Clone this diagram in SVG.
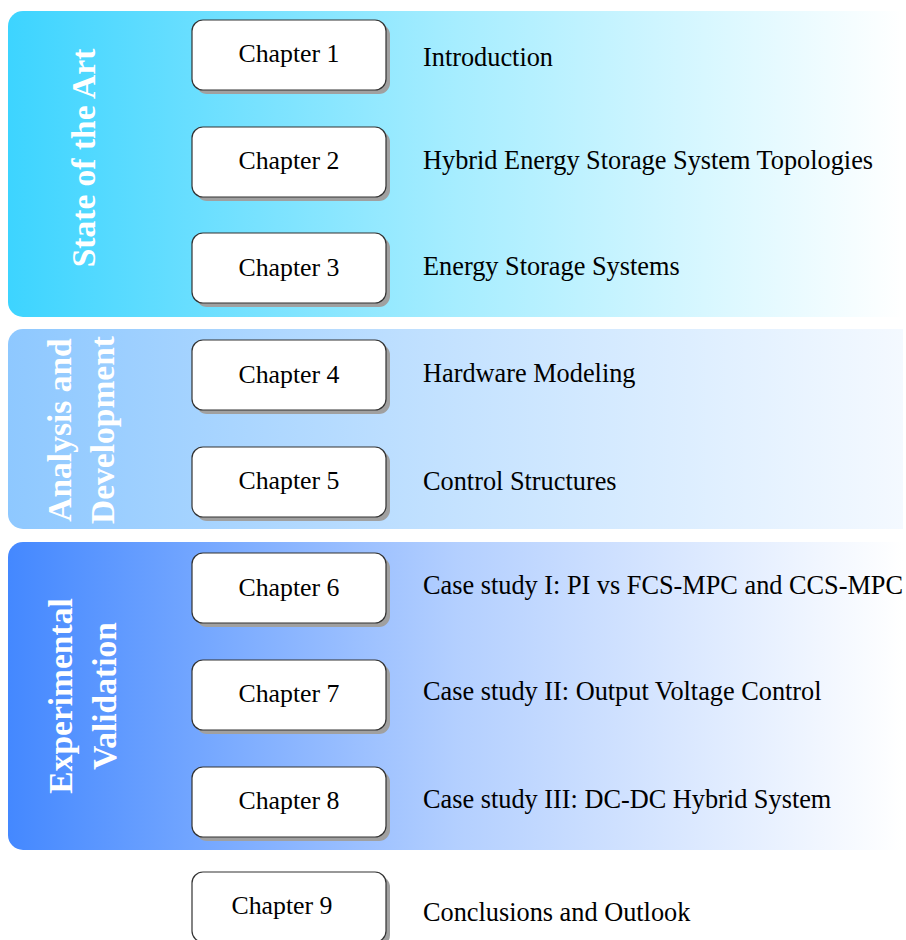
<svg xmlns="http://www.w3.org/2000/svg" width="906" height="940" viewBox="0 0 906 940">
<defs>
<linearGradient id="g1" x1="0" y1="0" x2="1" y2="0">
<stop offset="0" stop-color="#3dd4ff"/>
<stop offset="0.5" stop-color="#a6edff"/>
<stop offset="1" stop-color="#ffffff"/>
</linearGradient>
<linearGradient id="g2" x1="0" y1="0" x2="1" y2="0">
<stop offset="0" stop-color="#8ec8ff"/>
<stop offset="0.5" stop-color="#c4e2ff"/>
<stop offset="1" stop-color="#f4f9ff"/>
</linearGradient>
<linearGradient id="g3" x1="0" y1="0" x2="1" y2="0">
<stop offset="0" stop-color="#4488ff"/>
<stop offset="0.5" stop-color="#b3cfff"/>
<stop offset="1" stop-color="#ffffff"/>
</linearGradient>
</defs>
<style>
.box{fill:#ffffff;stroke:#333333;stroke-width:1.2}
.sh{fill:#a0a0a0}
.ch{font-family:"Liberation Serif","Times New Roman",serif;font-size:25.8px;fill:#000;text-anchor:middle}
.lb{font-family:"Liberation Serif","Times New Roman",serif;font-size:26.3px;fill:#000}
.vt{font-family:"Liberation Serif","Times New Roman",serif;font-size:33.5px;font-weight:bold;fill:#ffffff;text-anchor:middle}
</style>
<g id="band1">
<path d="M23,11 H903 V317 H23 A15,15 0 0 1 8,302 V26 A15,15 0 0 1 23,11 Z" fill="url(#g1)"/>
<text class="vt" transform="translate(95,158) rotate(-90)">State of the Art</text>
</g>
<g id="band2">
<path d="M23,329 H903 V529 H23 A15,15 0 0 1 8,514 V344 A15,15 0 0 1 23,329 Z" fill="url(#g2)"/>
<text class="vt" transform="translate(71,430) rotate(-90)">Analysis and</text>
<text class="vt" transform="translate(114,430) rotate(-90)">Development</text>
</g>
<g id="band3">
<path d="M23,542 H903 V850 H23 A15,15 0 0 1 8,835 V557 A15,15 0 0 1 23,542 Z" fill="url(#g3)"/>
<text class="vt" transform="translate(72,696) rotate(-90)">Experimental</text>
<text class="vt" transform="translate(116,696) rotate(-90)">Validation</text>
</g>
<g id="ch1"><rect class="sh" x="196" y="24" width="194" height="70" rx="11"/><rect class="box" x="192" y="20" width="194" height="70" rx="11"/><text class="ch" x="289" y="62">Chapter 1</text><text class="lb" x="423" y="66">Introduction</text></g>
<g id="ch2"><rect class="sh" x="196" y="131" width="194" height="70" rx="11"/><rect class="box" x="192" y="127" width="194" height="70" rx="11"/><text class="ch" x="289" y="169">Chapter 2</text><text class="lb" x="423" y="169">Hybrid Energy Storage System Topologies</text></g>
<g id="ch3"><rect class="sh" x="196" y="237" width="194" height="70" rx="11"/><rect class="box" x="192" y="233" width="194" height="70" rx="11"/><text class="ch" x="289" y="276">Chapter 3</text><text class="lb" x="423" y="275">Energy Storage Systems</text></g>
<g id="ch4"><rect class="sh" x="196" y="344" width="194" height="70" rx="11"/><rect class="box" x="192" y="340" width="194" height="70" rx="11"/><text class="ch" x="289" y="383">Chapter 4</text><text class="lb" x="423" y="382">Hardware Modeling</text></g>
<g id="ch5"><rect class="sh" x="196" y="451" width="194" height="70" rx="11"/><rect class="box" x="192" y="447" width="194" height="70" rx="11"/><text class="ch" x="289" y="489">Chapter 5</text><text class="lb" x="423" y="490">Control Structures</text></g>
<g id="ch6"><rect class="sh" x="196" y="557" width="194" height="70" rx="11"/><rect class="box" x="192" y="553" width="194" height="70" rx="11"/><text class="ch" x="289" y="596">Chapter 6</text><text class="lb" x="423" y="594">Case study I: PI vs FCS-MPC and CCS-MPC</text></g>
<g id="ch7"><rect class="sh" x="196" y="664" width="194" height="70" rx="11"/><rect class="box" x="192" y="660" width="194" height="70" rx="11"/><text class="ch" x="289" y="702">Chapter 7</text><text class="lb" x="423" y="700">Case study II: Output Voltage Control</text></g>
<g id="ch8"><rect class="sh" x="196" y="771" width="194" height="70" rx="11"/><rect class="box" x="192" y="767" width="194" height="70" rx="11"/><text class="ch" x="289" y="809">Chapter 8</text><text class="lb" x="423" y="808">Case study III: DC-DC Hybrid System</text></g>
<g id="ch9"><rect class="sh" x="196" y="876" width="194" height="70" rx="11"/><rect class="box" x="192" y="872" width="194" height="70" rx="11"/><text class="ch" x="282" y="914">Chapter 9</text><text class="lb" x="423" y="921">Conclusions and Outlook</text></g>
<g id="connectors"/>
</svg>
